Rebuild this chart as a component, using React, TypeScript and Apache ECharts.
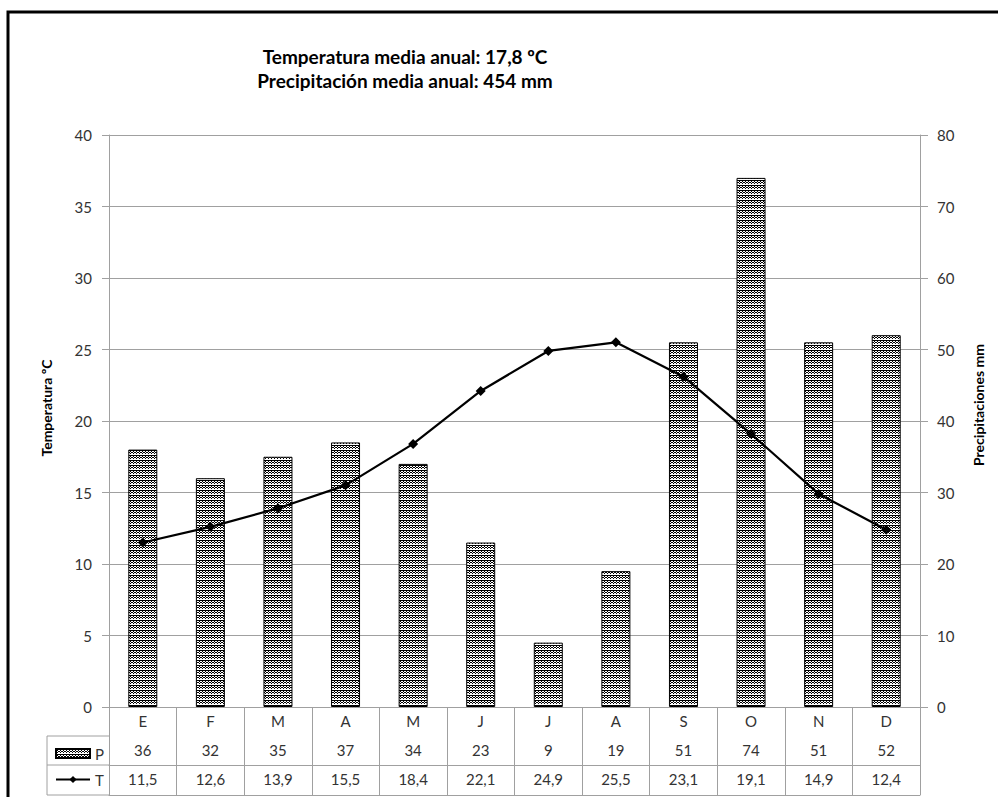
import React, { useEffect, useRef } from "react";
import * as echarts from "echarts";

const months = ["E", "F", "M", "A", "M", "J", "J", "A", "S", "O", "N", "D"];
const precipitation = [36, 32, 35, 37, 34, 23, 9, 19, 51, 74, 51, 52];
const temperature = [11.5, 12.6, 13.9, 15.5, 18.4, 22.1, 24.9, 25.5, 23.1, 19.1, 14.9, 12.4];
const tempTicks = { min: 0, max: 40, interval: 5 };
const precTicks = { min: 0, max: 80, interval: 10 };
const titleLines = ["Temperatura media anual: 17,8 ºC", "Precipitación media anual: 454 mm"];

const GRID = "#a0a0a0";
const TXT = "#333333";
const FONT = "Lato, 'Open Sans', sans-serif";

function makePattern(): string {
  const rows = ["######", ".#..#.", "#.##.#", ".#..#.", "......"];
  const c = document.createElement("canvas");
  c.width = rows[0].length;
  c.height = rows.length;
  const ctx = c.getContext("2d")!;
  ctx.fillStyle = "#ffffff";
  ctx.fillRect(0, 0, c.width, c.height);
  ctx.fillStyle = "#000000";
  rows.forEach((r, y) => {
    for (let x = 0; x < r.length; x++) if (r[x] === "#") ctx.fillRect(x, y, 1, 1);
  });
  return c.toDataURL();
}

export default function App() {
  const ref = useRef<HTMLDivElement>(null);
  useEffect(() => {
    if (!ref.current) return;
    const chart = echarts.init(ref.current, null, { renderer: "svg" });
    const pattern = makePattern();
    const tableLabel = { fontSize: 15, color: TXT, fontFamily: FONT, margin: 6, interval: 0 };
    const line = (x1: number, y1: number, x2: number, y2: number) => ({
      type: "line",
      shape: { x1, y1, x2, y2 },
      style: { stroke: GRID, lineWidth: 1 },
      silent: true,
    });
    const legendBase = {
      orient: "vertical",
      left: 50,
      itemWidth: 34,
      itemHeight: 9,
      itemGap: 0,
      textStyle: { fontSize: 15, color: TXT, fontFamily: FONT, lineHeight: 15 },
    };
    chart.setOption({
      animation: false,
      backgroundColor: "#ffffff",
      textStyle: { fontFamily: FONT },
      grid: { left: 109, right: 78, top: 135, bottom: 90, containLabel: false },
      legend: [
        { ...legendBase, top: 741, data: [{ name: "P", icon: "rect" }] },
        { ...legendBase, top: 767, data: ["T"] },
      ],
      graphic: [
        {
          type: "rect",
          shape: { x: 8, y: 12, width: 1100, height: 900 },
          style: { fill: "none", stroke: "#000", lineWidth: 3 },
          silent: true,
        },
        {
          type: "text",
          x: 405,
          y: 44,
          style: {
            text: titleLines.join("\n"),
            textAlign: "center",
            fontSize: 19,
            fontWeight: "bold",
            fontFamily: FONT,
            lineHeight: 24,
            fill: "#000",
          },
        },
        line(47, 736, 109, 736),
        line(47, 765, 109, 765),
        line(47, 795, 109, 795),
        line(47, 736, 47, 795),
      ],
      xAxis: [
        {
          type: "category",
          data: months,
          position: "bottom",
          axisLine: { show: true, lineStyle: { color: GRID } },
          axisTick: { show: true, length: 88, interval: 0, lineStyle: { color: GRID } },
          axisLabel: tableLabel,
        },
        {
          type: "category",
          data: precipitation.map((v) => String(v)),
          position: "bottom",
          offset: 29,
          axisLine: { show: true, lineStyle: { color: GRID } },
          axisTick: { show: false },
          axisLabel: tableLabel,
        },
        {
          type: "category",
          data: temperature.map((v) => v.toFixed(1).replace(".", ",")),
          position: "bottom",
          offset: 58,
          axisLine: { show: true, lineStyle: { color: GRID } },
          axisTick: { show: false },
          axisLabel: tableLabel,
        },
        {
          type: "category",
          data: months,
          position: "bottom",
          offset: 88,
          axisLine: { show: true, lineStyle: { color: GRID } },
          axisTick: { show: false },
          axisLabel: { show: false },
        },
      ],
      yAxis: [
        {
          type: "value",
          ...tempTicks,
          position: "left",
          name: "Temperatura ºC",
          nameLocation: "middle",
          nameGap: 56,
          nameRotate: 90,
          nameTextStyle: {
            fontSize: 14,
            fontWeight: "bold",
            color: "#000",
            fontFamily: FONT,
            padding: [0, 0, 0, 26],
          },
          axisLine: { show: true, lineStyle: { color: GRID } },
          axisTick: { show: true, length: 7, lineStyle: { color: GRID } },
          axisLabel: { fontSize: 15, color: TXT, margin: 17, fontFamily: FONT },
          splitLine: { show: true, lineStyle: { color: GRID, width: 1 } },
        },
        {
          type: "value",
          ...precTicks,
          position: "right",
          name: "Precipitaciones mm",
          nameLocation: "middle",
          nameGap: 51,
          nameRotate: 90,
          nameTextStyle: {
            fontSize: 14,
            fontWeight: "bold",
            color: "#000",
            fontFamily: FONT,
            padding: [0, 0, 0, 32],
          },
          axisLine: { show: true, lineStyle: { color: GRID } },
          axisTick: { show: true, length: 8, lineStyle: { color: GRID } },
          axisLabel: { fontSize: 15, color: TXT, margin: 17, fontFamily: FONT },
          splitLine: { show: false },
        },
      ],
      series: [
        {
          name: "P",
          type: "bar",
          xAxisIndex: 0,
          yAxisIndex: 1,
          data: precipitation,
          barWidth: 29,
          itemStyle: {
            color: { image: pattern, repeat: "repeat", imageWidth: 6, imageHeight: 5 },
            borderColor: "#000",
            borderWidth: 1,
          },
        },
        {
          name: "T",
          type: "line",
          xAxisIndex: 0,
          yAxisIndex: 0,
          data: temperature,
          symbol: "diamond",
          symbolSize: 10,
          lineStyle: { color: "#000", width: 2.2 },
          itemStyle: { color: "#000" },
          z: 5,
        },
      ],
    });
    return () => chart.dispose();
  }, []);
  return (
    <div
      ref={ref}
      style={{ position: "absolute", left: 0, top: 0, width: 998, height: 797 }}
    />
  );
}
